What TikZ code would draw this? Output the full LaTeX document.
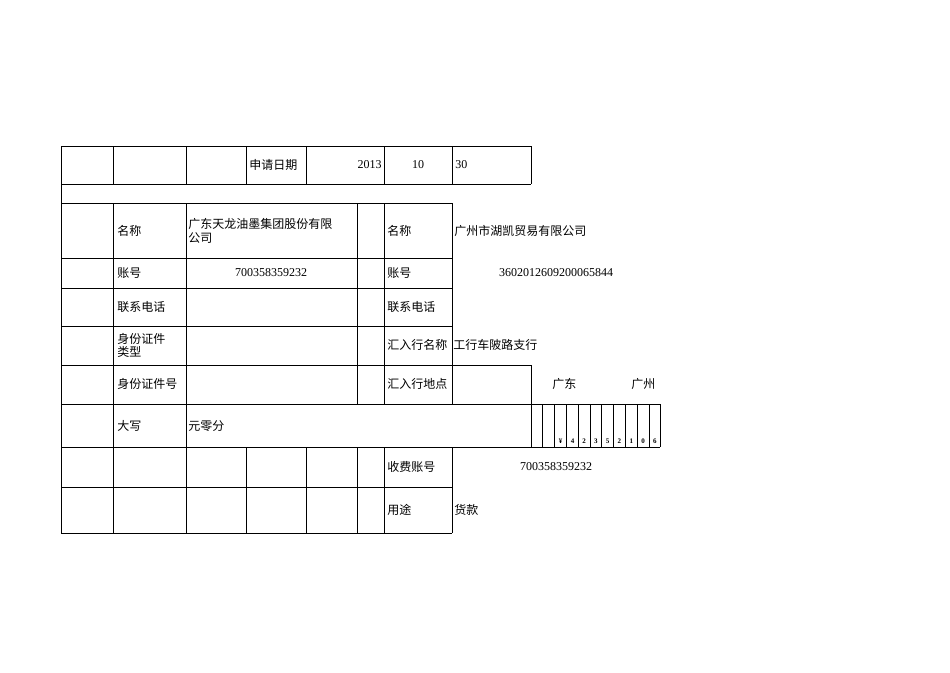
\documentclass[tikz,border=0pt]{standalone}
\usepackage{fontspec}
\setmainfont{Liberation Serif}
\newfontfamily\cjk{Noto Sans CJK SC}
\begin{document}
\begin{tikzpicture}[x=1pt,y=-1pt,line width=0.8pt,
  t/.style={inner sep=0pt,anchor=west,font=\cjk\fontsize{12}{13}\selectfont},
  n/.style={inner sep=0pt,font=\fontsize{12}{13}\selectfont},
  d/.style={inner sep=0pt,font=\fontsize{7}{8}\selectfont\bfseries}]
\useasboundingbox (0,0) rectangle (950,672);
% horizontal lines
\draw (61,146)--(531,146);
\draw (61,184)--(531,184);
\draw (61,203)--(452,203);
\draw (61,258)--(452,258);
\draw (61,288)--(452,288);
\draw (61,326)--(452,326);
\draw (61,365)--(531,365);
\draw (61,404)--(660,404);
\draw (61,447)--(660,447);
\draw (61,487)--(452,487);
\draw (61,533)--(452,533);
% top row verticals
\foreach \x in {61,113,186,246,306,384,452,531} \draw (\x,146)--(\x,184);
\draw (61,184)--(61,203);
% main rows
\foreach \x in {61,113,186} \draw (\x,203)--(\x,447);
\foreach \x in {357,384,452} \draw (\x,203)--(\x,404);
\draw (531,365)--(531,447);
\foreach \x in {542.7,554.3,566.7,578.3,590,601.7,613.3,625.3,637.3,649,660.7} \draw (\x,404)--(\x,447);
\foreach \x in {61,113,186,246,306,357,384,452} \draw (\x,447)--(\x,533);
% texts
\node[t] (a1) at (249,165) {申请日期};
\node[n,anchor=east] (a2) at (382,165) {2013};
\node[n] (a3) at (418,165) {10};
\node[n,anchor=west] (a4) at (455,165) {30};
\node[t] (b1) at (117,231) {名称};
\node[t] (b2) at (188,224) {广东天龙油墨集团股份有限};
\node[t] (b3) at (188,238) {公司};
\node[t] (b4) at (387,231) {名称};
\node[t] (b5) at (454,231) {广州市湖凯贸易有限公司};
\node[t] (c1) at (117,273) {账号};
\node[n] (c2) at (271,273) {700358359232};
\node[t] (c3) at (387,273) {账号};
\node[n] (c4) at (556,273) {3602012609200065844};
\node[t] (e1) at (117,307) {联系电话};
\node[t] (e2) at (387,307) {联系电话};
\node[t] (f1) at (117,339) {身份证件};
\node[t] (f2) at (117,352) {类型};
\node[t] (f3) at (387,345) {汇入行名称};
\node[t] (f4) at (453,345) {工行车陂路支行};
\node[t] (g1) at (117,384) {身份证件号};
\node[t] (g2) at (387,384) {汇入行地点};
\node[t] (g3) at (552,384) {广东};
\node[t] (g4) at (631,384) {广州};
\node[t] (h1) at (117,426) {大写};
\node[t] (h2) at (188,426) {元零分};
\foreach \c/\x [count=\i] in {¥/560.5,4/572.5,2/584.2,3/595.8,5/607.5,2/619.3,1/631.3,0/643.2,6/654.8}
  \node[d] (dg\i) at (\x,441) {\c};
\node[t] (k1) at (387,467) {收费账号};
\node[n] (k2) at (556,467) {700358359232};
\node[t] (m1) at (387,510) {用途};
\node[t] (m2) at (454,510) {货款};
\end{tikzpicture}
\end{document}
